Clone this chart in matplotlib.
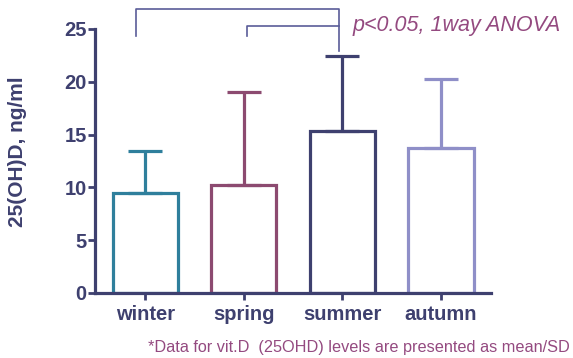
import numpy as np
import matplotlib
matplotlib.use("Agg")
import matplotlib.pyplot as plt

plt.rcParams['font.family'] = ['Liberation Sans', 'DejaVu Sans']

# data
seasons = ["winter", "spring", "summer", "autumn"]
means = [9.5, 10.2, 15.3, 13.7]
sds = [3.9, 8.8, 7.1, 6.6]
colors = ["#2f7f9c", "#8c4a70", "#3e406f", "#8f8fc8"]
yticks = [0, 5, 10, 15, 20, 25]

navy = "#3e406f"
plum = "#944a80"

fig = plt.figure(figsize=(5.73, 3.58), dpi=100)
ax = fig.add_axes([0.166, 0.182, 0.691, 0.737])

x = np.arange(len(seasons))
for i in range(len(seasons)):
    ax.bar(x[i], means[i], width=0.66, facecolor="white", edgecolor=colors[i],
           linewidth=2.3, zorder=2)
    ax.errorbar(x[i], means[i], yerr=[[0], [sds[i]]], color=colors[i],
                elinewidth=2.3, capsize=12.5, capthick=2.3, zorder=3)

ax.set_xlim(-0.507, 3.507)
ax.set_ylim(0, 25)
ax.set_xticks(x)
ax.set_xticklabels(seasons, fontsize=14.5, fontweight="bold", color=navy)
ax.set_yticks(yticks)
ax.set_yticklabels([str(v) for v in yticks], fontsize=14.5, fontweight="bold", color=navy)
ax.tick_params(axis="both", colors=navy, width=2, length=5)
ax.tick_params(axis="x", pad=4)
ax.tick_params(axis="y", pad=1)
for s in ["top", "right"]:
    ax.spines[s].set_visible(False)
for s in ["left", "bottom"]:
    ax.spines[s].set_color(navy)
    ax.spines[s].set_linewidth(2.3)

ax.set_ylabel("25(OH)D, ng/ml", fontsize=15, fontweight="bold", color=navy, va="center")
ax.yaxis.set_label_coords(-0.197, 0.535)

# significance brackets
ax.plot([-0.09, -0.09, 1.97, 1.97], [24.3, 26.9, 26.9, 22.9], color="#5a5c98",
        linewidth=1.2, clip_on=False)
ax.plot([1.03, 1.03, 1.97], [24.35, 25.3, 25.3], color="#5a5c98",
        linewidth=1.2, clip_on=False)
ax.text(2.1, 25.3, "p<0.05, 1way ANOVA", fontsize=15.5, style="italic",
        color=plum, va="center", ha="left")

fig.text(0.995, 0.03, "*Data for vit.D  (25OHD) levels are presented as mean/SD",
         fontsize=11.7, color=plum, ha="right", va="center")

fig.savefig("out.png", dpi=100)
